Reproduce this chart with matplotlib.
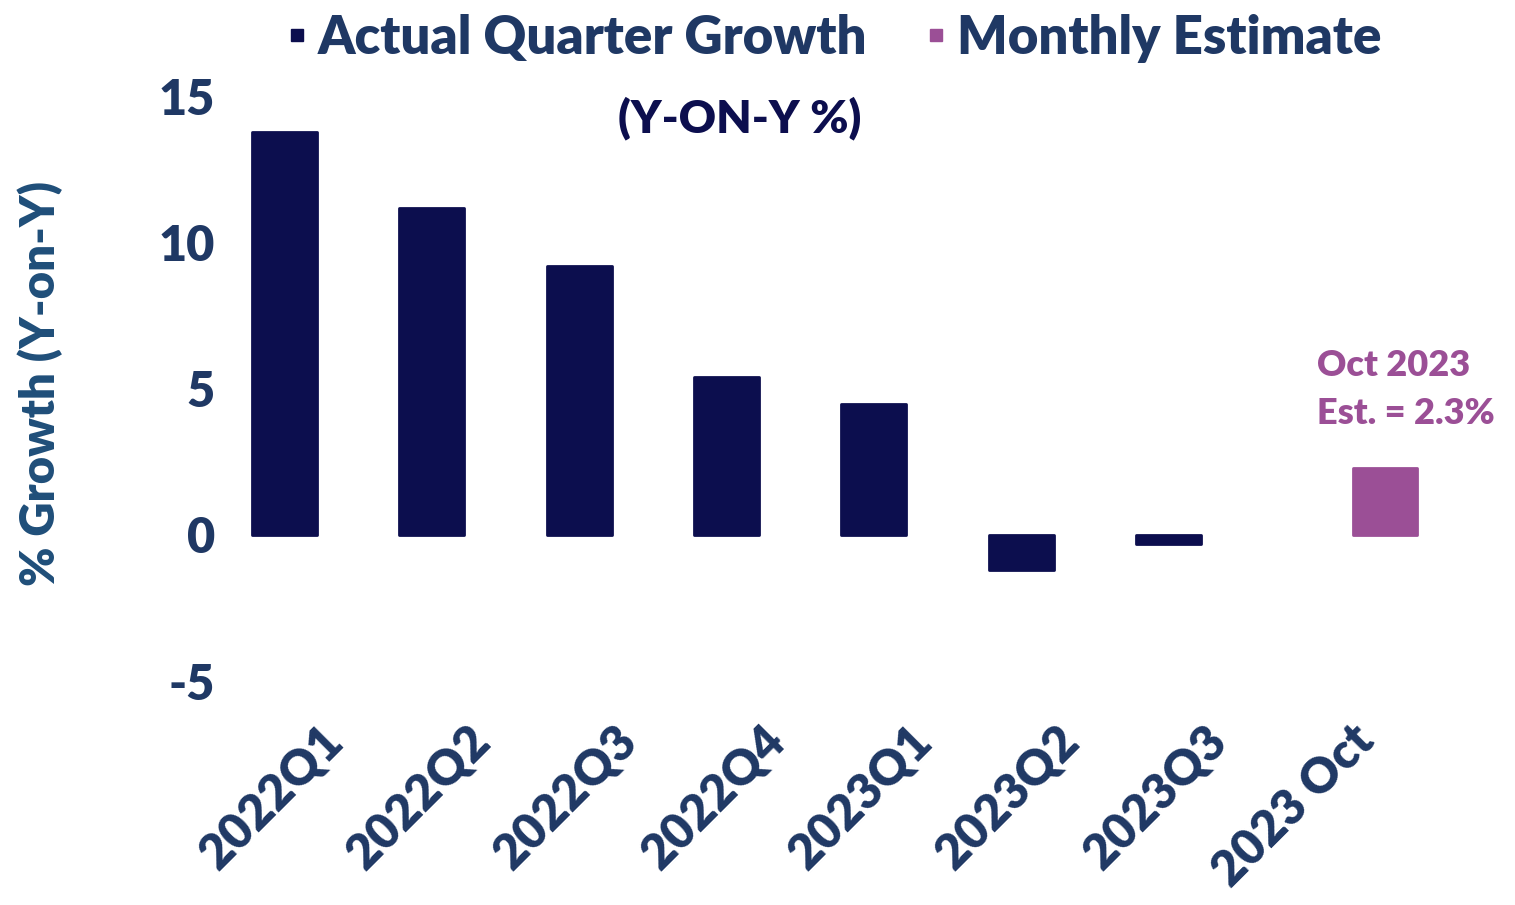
import matplotlib.pyplot as plt
import numpy as np
from matplotlib.lines import Line2D
import matplotlib.transforms as mtransforms

categories = ['2022Q1', '2022Q2', '2022Q3', '2022Q4', '2023Q1', '2023Q2', '2023Q3', '2023 Oct']
actual = [13.8, 11.2, 9.2, 5.4, 4.5, -1.2, -0.3, np.nan]
monthly = [np.nan, np.nan, np.nan, np.nan, np.nan, np.nan, np.nan, 2.3]
yticks = [-5, 0, 5, 10, 15]

navy = '#0C0E4E'
purple = '#9B4F96'
label_col = '#1F3864'
ylab_col = '#1F4E79'

tick_font = ['Lato', 'DejaVu Sans']

fig = plt.figure(figsize=(15.15, 9.05), dpi=100)
ax = fig.add_axes([0.162, 0.2475, 0.778, 0.6455])

x = np.arange(len(categories))
w = 0.44
ax.bar(x - 0.235, actual, width=w, color=navy, edgecolor=navy, linewidth=2, joinstyle='round')
ax.bar(x + 0.235, monthly, width=w, color=purple, edgecolor=purple, linewidth=2, joinstyle='round')

ax.set_xlim(-0.5, len(categories) - 0.5)
ax.set_ylim(-5, 15)
ax.set_yticks(yticks)
ax.set_yticklabels([str(v) for v in yticks], fontsize=35, fontweight='heavy',
                   color=label_col, family=tick_font)
ax.set_xticks(x)
ax.set_xticklabels(categories, fontsize=35, fontweight='heavy', color=label_col,
                   family=tick_font, rotation=45, ha='right', rotation_mode='anchor')
offset = mtransforms.ScaledTranslation(0.22, 0, fig.dpi_scale_trans)
for lab in ax.get_xticklabels():
    lab.set_transform(lab.get_transform() + offset)
ax.tick_params(axis='both', length=0)
ax.tick_params(axis='y', pad=22)
ax.tick_params(axis='x', pad=26)
for s in ax.spines.values():
    s.set_visible(False)

ax.set_ylabel('% Growth (Y-on-Y)', fontsize=34, fontweight='heavy', color=ylab_col,
              family=tick_font)
ax.yaxis.set_label_coords(-0.155, 0.51)

ax.text(6.77, 4.97, 'Oct 2023\nEst. = 2.3%', fontsize=26, fontweight='heavy',
        color=purple, family=tick_font, ha='left', va='center', linespacing=1.55)

handles = [Line2D([], [], marker='s', linestyle='none', color=navy, markersize=8),
           Line2D([], [], marker='s', linestyle='none', color=purple, markersize=8)]
fig.legend(handles, ['Actual Quarter Growth', 'Monthly Estimate'], loc='center',
           bbox_to_anchor=(0.547, 0.958), ncol=2, frameon=False, handletextpad=0.0,
           handlelength=0.8, columnspacing=0.9,
           prop={'family': tick_font, 'weight': 'heavy', 'size': 38},
           labelcolor=label_col)
fig.text(0.488, 0.87, '(Y-ON-Y %)', fontsize=33, fontweight='heavy', color=navy,
         family=tick_font, ha='center', va='center')

fig.savefig('out.png', dpi=100)
